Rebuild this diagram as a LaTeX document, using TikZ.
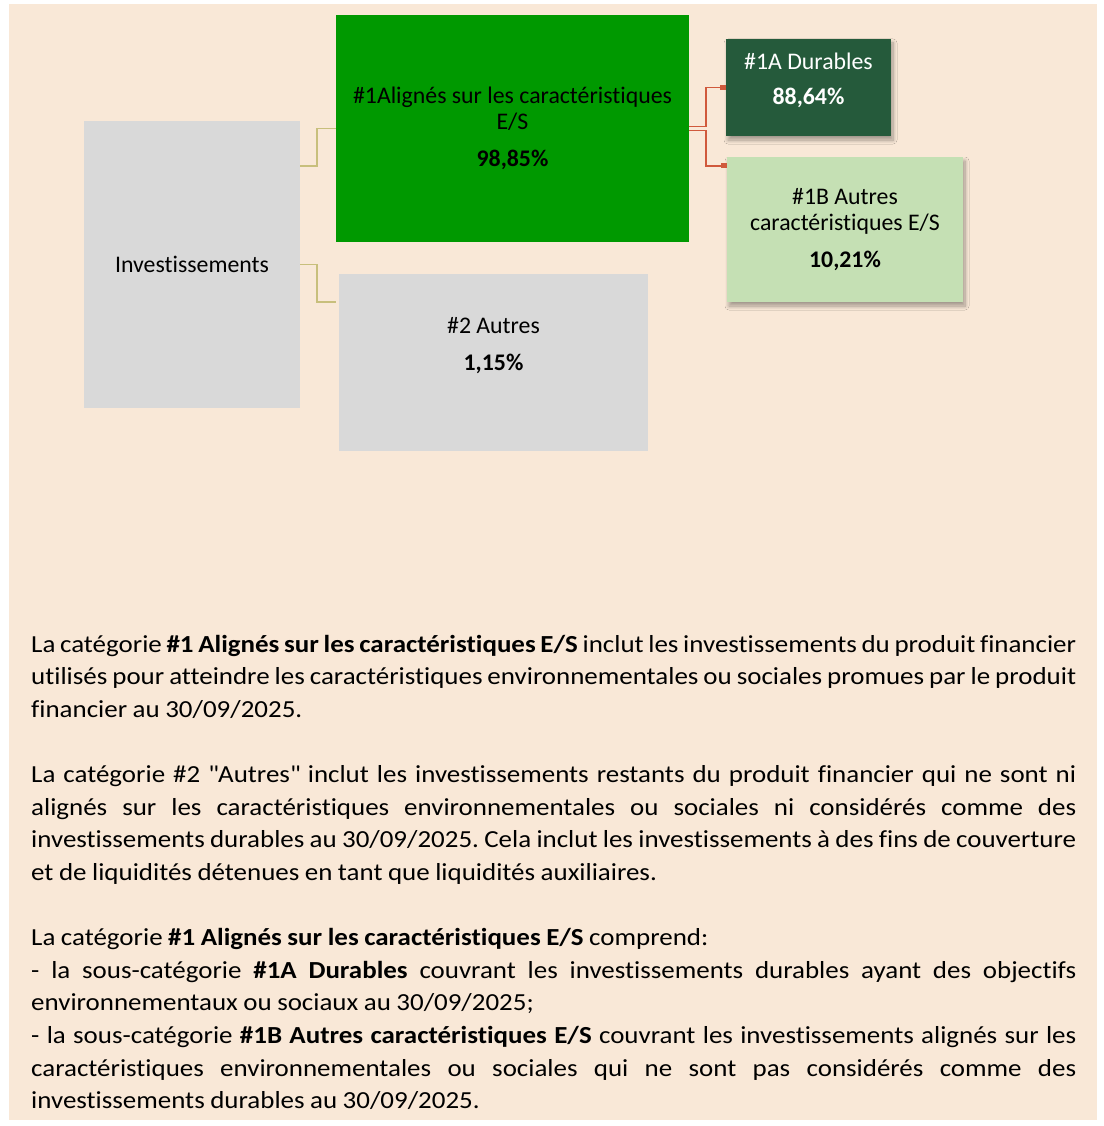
\documentclass[tikz,border=0pt]{standalone}
\usepackage{fontspec}
\setmainfont{Carlito}[Ligatures={NoCommon}]
\newfontfamily\corps{Carlito}[Ligatures={NoCommon}, FakeStretch=1.1]
\usepackage{xcolor}
\usetikzlibrary{arrows.meta,calc,shadows.blur}

\definecolor{fond}{HTML}{F9E8D7}
\definecolor{gris}{HTML}{D9D9D9}
\definecolor{vert}{HTML}{009900}
\definecolor{vertfonce}{HTML}{255A3B}
\definecolor{vertclair}{HTML}{C5E0B4}
\definecolor{kaki}{HTML}{C8BF7C}
\definecolor{brique}{HTML}{D0593C}

\begin{document}
\begin{tikzpicture}[x=1pt, y=-1pt,
  bloc/.style={rectangle, inner sep=0pt, align=center, font=\fontsize{23.8}{26}\selectfont},
  ombre/.style={blur shadow={shadow xshift=2pt, shadow yshift=-4pt, shadow blur radius=4pt, shadow blur steps=8, shadow opacity=35}},
  lien/.style={draw=kaki, line width=1.6pt},
  lienrouge/.style={draw=brique, line width=1.6pt, -{Square[length=6pt,width=5pt]}}]

\useasboundingbox (0,0) rectangle (1103,1126);
\fill[fond] (9,4) rectangle (1097,1120);

\node (inv) at (192,264.5) [bloc, fill=gris, minimum width=216pt, minimum height=287pt] {Investissements};
\node (es) at (512.5,128.5) [bloc, fill=vert, minimum width=353pt, minimum height=227pt] {\#1Alignés sur les caractéristiques\\E/S\\[11pt]\textbf{98,85\%}};
\node (autres) at (493.5,362.5) [bloc, fill=gris, minimum width=309pt, minimum height=177pt] {};
\node (autrestxt) at ($(autres.center)+(0,-17)$) [bloc] {\#2 Autres\\[11pt]\textbf{1,15\%}};

\node (durables) at (808.5,87.5) [bloc, ombre, fill=vertfonce, minimum width=165pt, minimum height=97pt] {};
\node (durablestxt) at ($(durables.center)+(0,-7)$) [bloc, text=white] {\#1A Durables\\[9pt]\textbf{88,64\%}};
\node (autresES) at (845,229.5) [bloc, ombre, fill=vertclair, minimum width=236pt, minimum height=145pt] {\#1B Autres\\caractéristiques E/S\\[11pt]\textbf{10,21\%}};

% liens
\draw[lien] ($(inv.north east)+(0,45)$) -- ++(17,0) |- (es.west);
\draw[lien] (inv.east) -- ++(17,0) |- ($(autres.north west)+(-3,28)$);
\draw[lienrouge] ($(es.east)+(0,-2)$) -- ++(17,0) |- (durables.west);
\draw[lienrouge] ($(es.east)+(0,2)$) -- ++(17,0) |- ($(autresES.north west)+(0,9)$);

\node (texte) at (31,635) [anchor=north west, inner sep=0pt, text width=1045pt, align=justify, font=\corps\fontsize{24.5}{32.6}\selectfont] {\parindent=0pt\hyphenpenalty=10000\tolerance=10000\frenchspacing
\spaceskip=0.226em plus 1em minus 0.12em
La catégorie \textbf{\#1 Alignés sur les caractéristiques E/S} inclut les investissements du produit financier\linebreak
utilisés pour atteindre les caractéristiques environnementales ou sociales promues par le produit\linebreak
financier au 30/09/2025.\par\vspace{32.6pt}
La catégorie \#2 \textquotedbl Autres\textquotedbl{} inclut les investissements restants du produit financier qui ne sont ni\linebreak
alignés sur les caractéristiques environnementales ou sociales ni considérés comme des\linebreak
investissements durables au 30/09/2025. Cela inclut les investissements à des fins de couverture\linebreak
et de liquidités détenues en tant que liquidités auxiliaires.\par\vspace{32.6pt}
La catégorie \textbf{\#1 Alignés sur les caractéristiques E/S} comprend:\\
- la sous-catégorie \textbf{\#1A Durables} couvrant les investissements durables ayant des objectifs\linebreak
environnementaux ou sociaux au 30/09/2025;\\
- la sous-catégorie \textbf{\#1B Autres caractéristiques E/S} couvrant les investissements alignés sur les\linebreak
caractéristiques environnementales ou sociales qui ne sont pas considérés comme des\linebreak
investissements durables au 30/09/2025.};

\end{tikzpicture}
\end{document}
